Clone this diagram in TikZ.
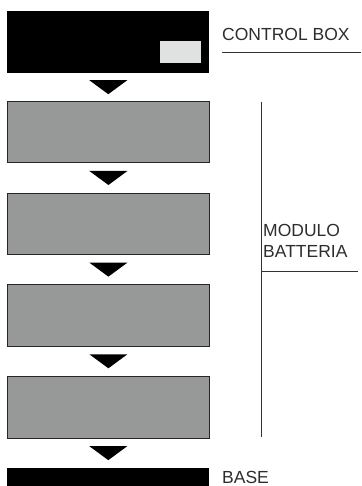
\documentclass[tikz,border=0pt]{standalone}
\usepackage{fontspec}
\setmainfont{Liberation Sans}
\usetikzlibrary{calc}
\begin{document}
\begin{tikzpicture}[x=1pt,y=-1pt,
  modbox/.style={draw=black!85,line width=0.8pt,fill=modgray,minimum width=202pt,minimum height=61.5pt,inner sep=0pt,anchor=north west},
  blackbox/.style={fill=black,minimum width=202pt,inner sep=0pt,anchor=north west},
  tri/.style={fill=black},
  lbl/.style={text=txtgray,font=\fontsize{17.5}{21.7}\selectfont,inner sep=0pt,anchor=base west,align=left},
  rule/.style={draw=black!80,line width=0.8pt}]
\definecolor{modgray}{RGB}{150,153,152}
\definecolor{lightrect}{RGB}{224,226,225}
\definecolor{txtgray}{RGB}{45,45,45}
\useasboundingbox (0,0) rectangle (361,486);
\begin{scope}
\clip (0,0) rectangle (361,486);
% control box
\node[blackbox,minimum height=62pt] (cb) at (7,11) {};
\node[fill=lightrect,minimum width=41pt,minimum height=22pt,inner sep=0pt,anchor=north west] (disp) at (160,41) {};
% modules
\node[modbox] (m1) at (7,101) {};
\node[modbox] (m2) at (7,192.7) {};
\node[modbox] (m3) at (7,284.3) {};
\node[modbox] (m4) at (7,376) {};
% base
\node[blackbox,minimum height=24pt] (base) at (7,468) {};
% triangles
\foreach \a/\b/\n in {cb/m1/t1,m1/m2/t2,m2/m3/t3,m3/m4/t4,m4/base/t5}{
  \coordinate (\n) at ($(\a.south)!0.5!(\b.north)$);
  \fill[tri] ([xshift=-19pt,yshift=7pt]\n) -- ([xshift=19pt,yshift=7pt]\n) -- ([yshift=-7pt]\n) -- cycle;
}
\end{scope}
% labels
\node[lbl] (lcb) at (222,40.5) {CONTROL BOX};
\coordinate (u1) at (222,52);
\coordinate (u2) at (361,52);
\draw[rule] (u1) -- (u2);
\coordinate (v1) at (261,102);
\coordinate (v2) at (261,437);
\draw[rule] (v1) -- (v2);
\coordinate (h2) at (358,271);
\draw[rule] (v1 |- h2) -- (h2);
\node[lbl] (lmod) at (263,257.7) {MODULO\\BATTERIA};
\node[lbl] (lbase) at (222,483) {BASE};
\end{tikzpicture}
\end{document}
